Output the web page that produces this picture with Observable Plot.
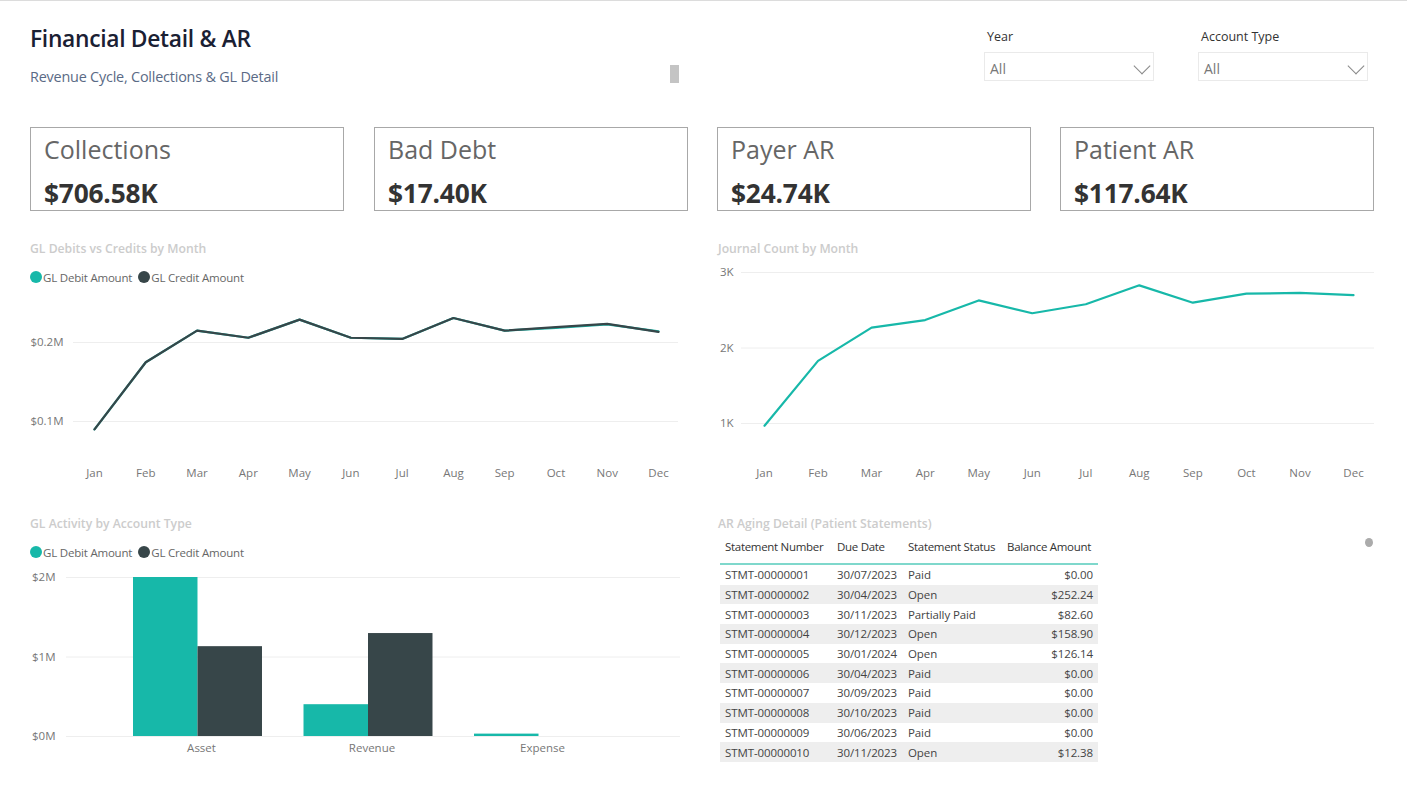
<!DOCTYPE html>
<html>
<head>
<meta charset="utf-8">
<script src="https://cdn.jsdelivr.net/npm/d3@7"></script>
<script src="https://cdn.jsdelivr.net/npm/@observablehq/plot@0.6"></script>
<style>
html,body{margin:0;padding:0;background:#fff;}
#page{position:relative;width:1407px;height:793px;overflow:hidden;background:#fff;font-family:"Open Sans",sans-serif;border-top:1px solid #dcdcdc;box-sizing:border-box;}
#page>*{position:absolute;}
.title{font-size:22.8px;font-weight:600;color:#1a2033;white-space:nowrap;letter-spacing:-.3px;line-height:30px;}
.subtitle{line-height:20px;font-size:14.4px;color:#5a6a85;white-space:nowrap;letter-spacing:-.2px;}
.scroll{width:9px;height:18px;background:#c4c4c4;}
.dot{width:8px;height:9px;border-radius:50%;background:#ababab;}
.slab{font-size:12.5px;color:#333;white-space:nowrap;}
.sbox{width:168px;height:27px;border:1px solid #eaeaea;box-sizing:content-box;font-size:14px;color:#777;line-height:31px;text-indent:5px;}
.chev{width:11px;height:11px;border-right:1px solid #888;border-bottom:1px solid #888;transform:rotate(45deg);}
.card{width:312px;height:82px;border:1px solid #a8a8a8;overflow:hidden;}
.card .l{position:absolute;left:13.5px;top:4px;font-size:25px;color:#666;white-space:nowrap;}
.card .v{position:absolute;left:13.5px;top:47px;font-size:26.3px;font-weight:700;color:#333;white-space:nowrap;letter-spacing:-.2px;}
.ct{font-size:12.2px;color:#cccccc;font-weight:600;white-space:nowrap;}
.leg{font-size:11.5px;color:#666;white-space:nowrap;display:flex;align-items:center;height:14px;letter-spacing:-.2px;}
.leg i{display:inline-block;width:12px;height:12px;border-radius:50%;margin-right:1px;}
.leg span{margin-right:6px;}
table{border-collapse:collapse;font-size:11.5px;color:#444;width:378px;table-layout:fixed;letter-spacing:-.1px;}
th{font-weight:400;text-align:left;height:26px;padding:0 0 0 5px;border-bottom:2px solid #7fd8cc;white-space:nowrap;color:#333;vertical-align:top;letter-spacing:-.3px;line-height:20px;}
td{padding:0 0 0 5px;height:19.7px;white-space:nowrap;}
tr:nth-child(even) td{background:#eeeeee;}
th:last-child{text-align:right;padding-right:7px;}
td:last-child{text-align:right;padding-right:5px;}
svg{display:block;}
</style>
</head>
<body>
<div id="page"></div>
<script>
// ---- data ----
const months = ["Jan","Feb","Mar","Apr","May","Jun","Jul","Aug","Sep","Oct","Nov","Dec"];
const glDebitByMonth  = [90000,175000,215000,206000,229000,206000,204500,231000,215000,218500,223000,214000];
const glCreditByMonth = [90000,175000,215000,206000,229000,206000,204500,231000,215000,219500,223500,213500];
const journalCountByMonth = [970,1830,2270,2370,2630,2460,2580,2830,2600,2720,2730,2700];
const accountTypes = ["Asset","Revenue","Expense"];
const glDebitByType  = [2000000,400000,30000];
const glCreditByType = [1130000,1295000,0];
const seriesNames = ["GL Debit Amount","GL Credit Amount"];
const seriesColors = ["#17b8a9","#374649"];
const kpiNames = ["Collections","Bad Debt","Payer AR","Patient AR"];
const kpiValues = ["$706.58K","$17.40K","$24.74K","$117.64K"];
const kpiLefts = [29,373,716,1059];
const tableColumns = ["Statement Number","Due Date","Statement Status","Balance Amount"];
const statementNumbers = ["STMT-00000001","STMT-00000002","STMT-00000003","STMT-00000004","STMT-00000005","STMT-00000006","STMT-00000007","STMT-00000008","STMT-00000009","STMT-00000010"];
const dueDates = ["30/07/2023","30/04/2023","30/11/2023","30/12/2023","30/01/2024","30/04/2023","30/09/2023","30/10/2023","30/06/2023","30/11/2023"];
const statuses = ["Paid","Open","Partially Paid","Open","Open","Paid","Paid","Paid","Paid","Open"];
const balances = ["$0.00","$252.24","$82.60","$158.90","$126.14","$0.00","$0.00","$0.00","$0.00","$12.38"];

const page = document.getElementById("page");
function add(cls, left, top, text){
  const d = document.createElement("div");
  d.className = cls;
  d.style.left = left+"px"; d.style.top = (top-1)+"px";
  if (text != null) d.textContent = text;
  page.appendChild(d);
  return d;
}
function place(svg, left, top){
  const d = document.createElement("div");
  d.style.left = left+"px"; d.style.top = (top-1)+"px";
  d.appendChild(svg);
  page.appendChild(d);
}
function legend(left, top){
  const d = add("leg", left, top);
  seriesNames.forEach((n,i)=>{
    const c = document.createElement("i"); c.style.background = seriesColors[i];
    const s = document.createElement("span"); s.textContent = n;
    d.append(c,s);
  });
}

// header
add("title",30,24,"Financial Detail & AR");
add("subtitle",30,67,"Revenue Cycle, Collections & GL Detail");
add("scroll",670,65);
add("dot",1365,538);
// slicers
[[984,987,"Year"],[1198,1201,"Account Type"]].forEach(([bx,lx,name])=>{
  add("slab",lx,28,name);
  add("sbox",bx,52,"All");
  add("chev",bx+151.5,59.5);
});
// KPI cards
kpiNames.forEach((n,i)=>{
  const c = add("card",kpiLefts[i]+0.5,127);
  const l = document.createElement("div"); l.className="l"; l.textContent=n;
  const v = document.createElement("div"); v.className="v"; v.textContent=kpiValues[i];
  c.append(l,v);
});

const font = {fontFamily:'"Open Sans",sans-serif',fontSize:"11.5px",background:"transparent",overflow:"visible"};
const tickColor = "#777";
const grid = "#eeeeee";
const colorScale = {domain:seriesNames, range:seriesColors};

// GL Debits vs Credits by Month
add("ct",30,240,"GL Debits vs Credits by Month");
legend(30,270);
const monthly = months.flatMap((m,i)=>[
  {month:m, series:seriesNames[0], value:glDebitByMonth[i]},
  {month:m, series:seriesNames[1], value:glCreditByMonth[i]}
]);
place(Plot.plot({
  width:680,height:223,marginLeft:73,marginRight:2,marginTop:40.5,marginBottom:24.5,style:font,
  x:{type:"point",domain:months,range:[94,658],padding:0,round:false},
  y:{domain:[50000,250000]},
  color:colorScale,
  marks:[
    Plot.ruleY([100000,200000],{stroke:grid}),
    Plot.line(monthly,{x:"month",y:"value",stroke:"series",z:"series",strokeWidth:2.2}),
    Plot.axisX({tickSize:0,tickPadding:8,label:null,color:tickColor}),
    Plot.axisY({ticks:[100000,200000],tickSize:0,tickPadding:10,label:null,color:tickColor,tickFormat:d=>`$${(d/1e6).toFixed(1)}M`})
  ]
}),0,262);

// Journal Count by Month
add("ct",718,240,"Journal Count by Month");
const journal = months.map((m,i)=>({month:m,value:journalCountByMonth[i]}));
place(Plot.plot({
  width:680,height:223,marginLeft:41,marginRight:6,marginTop:10,marginBottom:24.25,style:font,
  x:{type:"point",domain:months,range:[64,653],padding:0,round:false},
  y:{domain:[500,3000]},
  marks:[
    Plot.ruleY([1000,2000,3000],{stroke:grid}),
    Plot.line(journal,{x:"month",y:"value",stroke:seriesColors[0],strokeWidth:2.2}),
    Plot.axisX({tickSize:0,tickPadding:8,label:null,color:tickColor}),
    Plot.axisY({ticks:[1000,2000,3000],tickSize:0,tickPadding:8,label:null,color:tickColor,tickFormat:d=>`${d/1000}K`})
  ]
}),700,262);

// GL Activity by Account Type
add("ct",30,515,"GL Activity by Account Type");
legend(30,545);
const byType = accountTypes.flatMap((a,i)=>[
  {account:a, series:seriesNames[0], value:glDebitByType[i]},
  {account:a, series:seriesNames[1], value:glCreditByType[i]}
]);
const half = 64.5;
place(Plot.plot({
  width:682,height:200,marginLeft:66,marginRight:2,marginTop:12,marginBottom:29,style:font,
  x:{type:"band",domain:accountTypes,range:[133,603],paddingInner:0.2435,paddingOuter:0,round:false},
  y:{domain:[0,2000000]},
  color:colorScale,
  marks:[
    Plot.ruleY([0,1000000,2000000],{stroke:grid}),
    Plot.barY(byType.filter(d=>d.series===seriesNames[0]),{x:"account",y:"value",fill:"series",insetRight:half}),
    Plot.barY(byType.filter(d=>d.series===seriesNames[1]),{x:"account",y:"value",fill:"series",insetLeft:half}),
    Plot.axisX({tickSize:0,tickPadding:7,label:null,color:tickColor,dx:3.5}),
    Plot.axisY({ticks:[0,1000000,2000000],tickSize:0,tickPadding:11,label:null,color:tickColor,tickFormat:d=>`$${d/1e6}M`})
  ]
}),0,565);

// AR Aging Detail table
add("ct",718,515,"AR Aging Detail (Patient Statements)");
const tableWrap = add("tw",720,537);
const widths = [112,71,99,96];
const table = document.createElement("table");
const cg = document.createElement("colgroup");
widths.forEach(w=>{const c=document.createElement("col");c.style.width=w+"px";cg.appendChild(c);});
table.appendChild(cg);
const thead = table.createTHead().insertRow();
tableColumns.forEach(c=>{const th=document.createElement("th");th.textContent=c;thead.appendChild(th);});
const tb = table.createTBody();
statementNumbers.forEach((s,i)=>{
  const r = tb.insertRow();
  [s,dueDates[i],statuses[i],balances[i]].forEach(v=>{r.insertCell().textContent=v;});
});
tableWrap.appendChild(table);
</script>
</body>
</html>
